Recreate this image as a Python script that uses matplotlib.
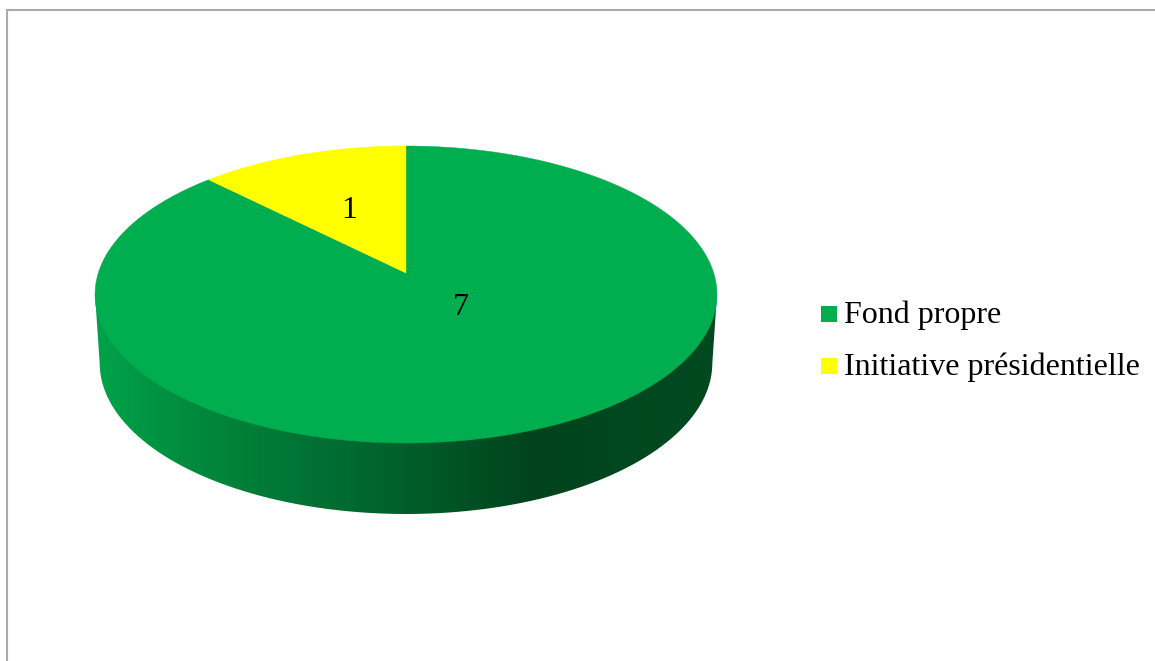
import numpy as np
import matplotlib
matplotlib.use("Agg")
import matplotlib.pyplot as plt
from matplotlib.colors import LinearSegmentedColormap
from matplotlib.patches import PathPatch, Rectangle
from matplotlib.path import Path

plt.rcParams['font.family'] = ['Liberation Serif', 'DejaVu Serif']

categories = ["Fond propre", "Initiative présidentielle"]
values = [7, 1]
colors = ["#00AE50", "#FFFF00"]

# side wall shading, left to right along the disc
wall_stops = [(0.0, "#00A349"), (0.18, "#00863C"), (0.45, "#00652D"),
              (0.70, "#00431D"), (1.0, "#004A20")]

W, H = 1155, 661
CX, CY = 406, 294.5    # centre of the top ellipse
RX, RY = 311, 148.5
APEX = 21.5            # how far the slices' meeting point sits above CY
WALL_DY = 68.5
WALL_RY = 151
WALL_SCALE = 0.985
FONT_SIZE = 23


def project(u, v):
    # perspective map from the unit disc to the screen, v=1 is the far edge
    k = APEX / RY
    a = RX * np.sqrt(1 - k ** 2)
    d = 1 + k * v
    return CX + a * u / d, CY - (RY * v + APEX) / d


def wedge(start, end):
    # angles are clockwise from 12 o'clock, in degrees
    t = np.radians(np.linspace(start, end, 200))
    x, y = project(np.sin(t), np.cos(t))
    ax0, ay0 = project(0.0, 0.0)
    return np.column_stack([np.r_[ax0, x], np.r_[ay0, y]])


fig = plt.figure(figsize=(W / 100, H / 100), dpi=100)
ax = fig.add_axes([0, 0, 1, 1])

# frame of the chart area
ax.plot([7, 7, W], [H, 10, 10], color="#ABABAB", lw=1.5, solid_joinstyle="miter")

# side wall: gradient clipped to the outline below the top face
t = np.linspace(-np.pi / 2, np.pi / 2, 200)
low_x = CX + RX * WALL_SCALE * np.sin(t)
low_y = CY + WALL_DY + WALL_RY * np.cos(t)
outline = np.vstack([[[CX - RX, CY]], np.column_stack([low_x, low_y]),
                     [[CX + RX, CY]], [[CX, CY]], [[CX - RX, CY]]])
clip = PathPatch(Path(outline), transform=ax.transData, fc="none", ec="none")
ax.add_patch(clip)
cmap = LinearSegmentedColormap.from_list("wall", wall_stops)
grad = np.linspace(0, 1, 512).reshape(1, -1)
img = ax.imshow(grad, cmap=cmap, extent=[CX - RX, CX + RX, CY + WALL_DY + WALL_RY, CY],
                aspect="auto", interpolation="bilinear", zorder=2)
img.set_clip_path(clip)

# top face, one wedge per value, first slice starts at 12 o'clock
total = sum(values)
start = 0
for val, col in zip(values, colors):
    end = start + 360 * val / total
    ax.fill(*wedge(start, end).T, color=col, lw=0.3, zorder=3)
    start = end

# data labels
label_xy = [(461, 315), (349, 218)]
for val, (x, y) in zip(values, label_xy):
    ax.text(x, y, str(val), fontsize=FONT_SIZE, ha="center", va="baseline", color="black", zorder=4)

# legend
legend_y = [323, 374.5]
for name, col, y in zip(categories, colors, legend_y):
    ax.add_patch(Rectangle((821, y - 17), 16, 16, fc=col, ec="none", zorder=4))
    ax.text(844, y, name, fontsize=FONT_SIZE, ha="left", va="baseline", color="black", zorder=4)

ax.set_xlim(0, W)
ax.set_ylim(H, 0)
ax.axis("off")

fig.savefig("out.png", dpi=100, facecolor="white")
